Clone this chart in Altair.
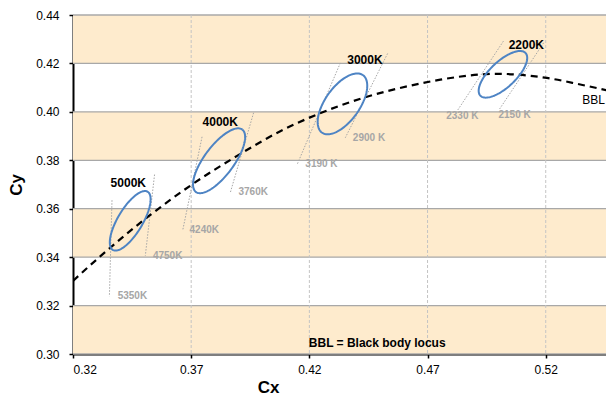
import altair as alt
import pandas as pd
import numpy as np

# ---- axes ----
X_MIN, X_MAX = 0.32, 0.5455
Y_MIN, Y_MAX = 0.30, 0.44
x_ticks = [0.32, 0.37, 0.42, 0.47, 0.52]
y_ticks = [0.30, 0.32, 0.34, 0.36, 0.38, 0.40, 0.42, 0.44]
band_lo = [0.30, 0.34, 0.38, 0.42]
band_hi = [0.32, 0.36, 0.40, 0.44]

# ---- black body locus ----
bbl_x = [0.3200, 0.3315, 0.3520, 0.3696, 0.3894, 0.4077, 0.4232, 0.4429,
         0.4669, 0.4754, 0.4994, 0.5205, 0.5346, 0.5487]
bbl_y = [0.3302, 0.3403, 0.3569, 0.3695, 0.3818, 0.3920, 0.3989, 0.4058,
         0.4117, 0.4133, 0.4157, 0.4140, 0.4113, 0.4083]

# ---- ellipses (centre, semi-axes, tilt in degrees) ----
ell_names = ["5000K", "4000K", "3000K", "2200K"]
ell_cx = [0.3442, 0.3818, 0.4340, 0.5019]
ell_cy = [0.3550, 0.3798, 0.4033, 0.4155]
ell_a = [0.0141, 0.0162, 0.0147, 0.0130]
ell_b = [0.0052, 0.0062, 0.0072, 0.0054]
ell_angle = [58.3, 52.5, 53.5, 42.4]
ell_label_x = [0.3434, 0.3823, 0.4435, 0.5118]
ell_label_y = [0.3707, 0.3957, 0.4213, 0.4278]

# ---- iso-temperature lines ----
iso_names = ["5350K", "4750K", "4240K", "3760K", "3190 K", "2900 K", "2330 K", "2150 K"]
iso_x1 = [0.3365, 0.3545, 0.3746, 0.3964, 0.4331, 0.4531, 0.5021, 0.5191]
iso_y1 = [0.3635, 0.3741, 0.3897, 0.3996, 0.4202, 0.4241, 0.4292, 0.4285]
iso_x2 = [0.3354, 0.3506, 0.3664, 0.3865, 0.4148, 0.4352, 0.4824, 0.5005]
iso_y2 = [0.3238, 0.3406, 0.3510, 0.3665, 0.3782, 0.3893, 0.4002, 0.4012]
iso_lx = [0.3389, 0.3538, 0.3693, 0.3900, 0.4183, 0.4384, 0.4779, 0.5000]
iso_ly = [0.3241, 0.3406, 0.3511, 0.3669, 0.3785, 0.3890, 0.3982, 0.3989]

FONT = "Liberation Sans"
W, H = 533, 339

xs = alt.Scale(domain=[X_MIN, X_MAX], nice=False, zero=False)
ys = alt.Scale(domain=[Y_MIN, Y_MAX], nice=False, zero=False)

x_axis = alt.Axis(values=x_ticks, format=".2f", grid=False, domainColor="black",
                  domainWidth=2, tickColor="black", tickWidth=1.5, tickSize=4,
                  labelFont=FONT, labelFontSize=12, labelColor="black", labelPadding=6,
                  titleFont=FONT, titleFontSize=17, titleFontWeight="bold", titleColor="black",
                  titleX=195, titleY=33, titleBaseline="middle", titleAlign="center")
y_axis = alt.Axis(values=y_ticks, format=".2f", grid=False, domainColor="black",
                  domainWidth=2, tickColor="black", tickWidth=1.5, tickSize=4,
                  labelFont=FONT, labelFontSize=12, labelColor="black", labelPadding=10,
                  titleFont=FONT, titleFontSize=17, titleFontWeight="bold", titleColor="black",
                  titleAngle=-90, titleX=-57, titleY=169.5, titleBaseline="middle",
                  titleAlign="center")


def X(f):
    return alt.X(f, type="quantitative", scale=xs, axis=x_axis, title="Cx")


def Y(f):
    return alt.Y(f, type="quantitative", scale=ys, axis=y_axis, title="Cy")


bands_df = pd.DataFrame({"lo": band_lo, "hi": band_hi})
bands = alt.Chart(bands_df).mark_rect(color="#FEEBCD").encode(
    x=alt.value(0), x2=alt.value(W), y=Y("lo"), y2="hi")

hgrid = alt.Chart(pd.DataFrame({"y": y_ticks})).mark_rule(
    color="#A8A8A8", strokeWidth=1.3).encode(y=Y("y"))

vgrid = alt.Chart(pd.DataFrame({"x": x_ticks[1:]})).mark_rule(
    color="#C4C4C4", strokeWidth=1, strokeDash=[3, 2]).encode(x=X("x"))

bbl_df = pd.DataFrame({"x": bbl_x, "y": bbl_y})
bbl = alt.Chart(bbl_df).mark_line(color="black", strokeWidth=2.2, strokeDash=[7, 5],
                                  interpolate="monotone", clip=True).encode(
    x=X("x"), y=Y("y"))

iso_df = pd.DataFrame({"name": iso_names, "x1": iso_x1, "y1": iso_y1,
                       "x2": iso_x2, "y2": iso_y2, "lx": iso_lx, "ly": iso_ly})
iso_lines = alt.Chart(iso_df).mark_rule(color="#A6A6A6", strokeWidth=1,
                                        strokeDash=[1.5, 1.5]).encode(
    x=X("x1"), y=Y("y1"), x2="x2", y2="y2")
iso_text = alt.Chart(iso_df).mark_text(font=FONT, fontSize=10, fontWeight="bold",
                                       color="#A6A6A6", align="left",
                                       baseline="middle").encode(
    x=X("lx"), y=Y("ly"), text="name")

rows = []
t = np.linspace(0, 2 * np.pi, 121)
for n, cx, cy, a, b, ang in zip(ell_names, ell_cx, ell_cy, ell_a, ell_b, ell_angle):
    th = np.radians(ang)
    ex = cx + a * np.cos(th) * np.cos(t) - b * np.sin(th) * np.sin(t)
    ey = cy + a * np.sin(th) * np.cos(t) + b * np.cos(th) * np.sin(t)
    for i, (px, py) in enumerate(zip(ex, ey)):
        rows.append({"name": n, "i": i, "x": px, "y": py})
ell_df = pd.DataFrame(rows)
ellipses = alt.Chart(ell_df).mark_line(color="#4E84C4", strokeWidth=2).encode(
    x=X("x"), y=Y("y"), detail="name:N", order="i:Q")

lab_df = pd.DataFrame({"name": ell_names, "x": ell_label_x, "y": ell_label_y})
ell_text = alt.Chart(lab_df).mark_text(font=FONT, fontSize=12, fontWeight="bold",
                                       color="black", align="center",
                                       baseline="middle").encode(
    x=X("x"), y=Y("y"), text="name")

notes_df = pd.DataFrame({"t": ["BBL"], "x": [0.5451], "y": [0.4048]})
bbl_text = alt.Chart(notes_df).mark_text(font=FONT, fontSize=12, color="black",
                                         align="right", baseline="middle").encode(
    x=X("x"), y=Y("y"), text="t")

foot_df = pd.DataFrame({"t": ["BBL = Black body locus"], "x": [0.4487], "y": [0.3045]})
foot_text = alt.Chart(foot_df).mark_text(font=FONT, fontSize=12, fontWeight="bold",
                                         color="black", align="center",
                                         baseline="middle").encode(
    x=X("x"), y=Y("y"), text="t")

chart = alt.layer(bands, hgrid, vgrid, iso_lines, bbl, ellipses, ell_text, iso_text,
                  bbl_text, foot_text).properties(
    width=W, height=H,
    autosize=alt.AutoSizeParams(type="none"),
    padding={"left": 65, "top": 7, "right": 0, "bottom": 44},
    background="white",
).configure_view(stroke=None)

chart.save("out.html", embed_options={"renderer": "svg", "actions": False})
